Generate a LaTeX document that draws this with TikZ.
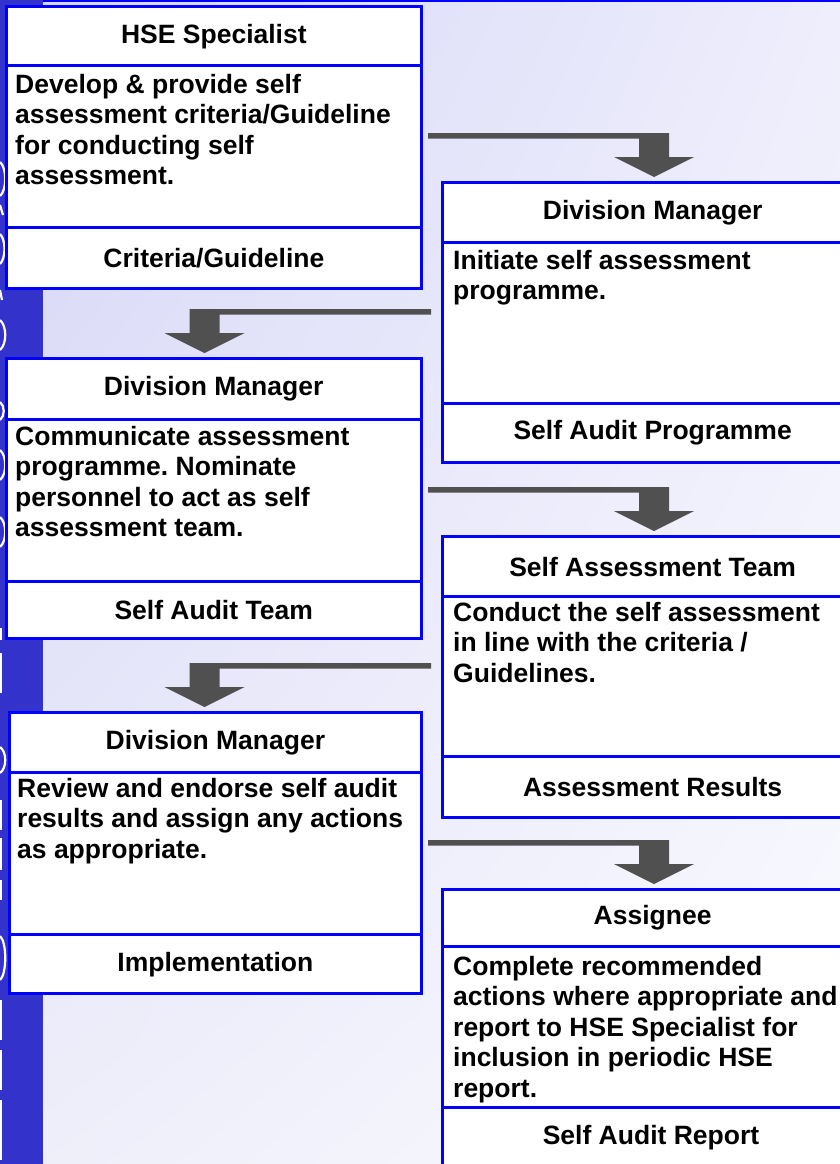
\documentclass[tikz,border=0pt]{standalone}
\usepackage{fontspec}
\setmainfont{Liberation Sans}
\usetikzlibrary{calc,shadings}
\definecolor{bord}{RGB}{0,0,255}
\definecolor{barc}{RGB}{51,51,204}
\definecolor{arr}{RGB}{80,80,80}
\definecolor{bgUL}{RGB}{212,212,247}
\definecolor{bgUR}{RGB}{238,238,252}
\definecolor{bgLL}{RGB}{238,238,250}
\definecolor{bgLR}{RGB}{250,250,255}
\newcommand\boxfont{\fontsize{26.5}{30.5}\selectfont\bfseries\frenchspacing}
\begin{document}
\begin{tikzpicture}[x=1pt,y=-1pt,
  cell/.style={draw=bord, line width=3.3pt, fill=white, rectangle, inner sep=0pt, anchor=north west, minimum width=#1},
  cell/.default=415pt,
  ttl/.style={font=\boxfont, inner sep=0pt},
  body/.style={font=\boxfont, align=left, anchor=base west, inner sep=0pt},
  lettermark/.style={draw=white, line width=2.2pt}
]
\useasboundingbox (0,0) rectangle (840,1164);
% background
\shade[upper left=bgUL, upper right=bgUR, lower left=bgLL, lower right=bgLR] (0,0) rectangle (840,1164);
\fill[barc] (0,0) rectangle (43,1164);
\fill[bord] (43,0) rectangle (840,2.5);
% white fragments of clipped lettering on the bar
\draw[lettermark] (0,162) .. controls (7,168) and (7,190) .. (0,196);
\draw[lettermark] (0,205) -- (3,215);
\draw[lettermark] (0,234) .. controls (6,240) and (6,258) .. (0,264);
\draw[lettermark] (0,290) -- (2,300);
\draw[lettermark] (0,320) .. controls (7,326) and (7,344) .. (0,350);
\draw[lettermark] (0,402) .. controls (5,406) and (5,416) .. (0,420);
\draw[lettermark] (0,450) .. controls (7,456) and (7,474) .. (0,480);
\draw[lettermark] (0,517) .. controls (7,523) and (7,541) .. (0,547);
\draw[lettermark] (1,628) -- (1,640);
\draw[lettermark] (1,653) -- (1,693);
\draw[lettermark] (0,747) .. controls (7,752) and (7,768) .. (0,773);
\draw[lettermark] (1,800) -- (1,830);
\draw[lettermark] (1,838) -- (1,870);
\draw[lettermark] (1,880) -- (1,900);
\draw[lettermark] (0,936) .. controls (7,942) and (7,974) .. (0,980);
\draw[lettermark] (1,1000) -- (1,1040);
\draw[lettermark] (1,1050) -- (1,1090);
\draw[lettermark] (1,1100) -- (1,1160);

% ---------- left column ----------
\node[cell=415.5pt, minimum height=59pt]  (hseT) at (4.5,5) {};
\node[cell=415.5pt, minimum height=162pt] (hseB) at (4.5,64) {};
\node[cell=415.5pt, minimum height=61pt]  (hseF) at (4.5,226) {};
\node[ttl] (hseTt) at (hseT.center) {HSE Specialist};
\node[body] (hseBt) at (15,184.5) {Develop \& provide self\\assessment criteria/Guideline\\for conducting self\\assessment.};
\node[ttl] (hseFt) at (hseF.center) {Criteria/Guideline};

\node[cell=415pt, minimum height=61pt]  (l2T) at (4.5,357) {};
\node[cell=415pt, minimum height=162pt] (l2B) at (4.5,418) {};
\node[cell=415pt, minimum height=57pt]  (l2F) at (4.5,580) {};
\node[ttl] (l2Tt) at (l2T.center) {Division Manager};
\node[body] (l2Bt) at (15,536.5) {Communicate assessment\\programme. Nominate\\personnel to act as self\\assessment team.};
\node[ttl] (l2Ft) at (l2F.center) {Self Audit Team};

\node[cell=411.5pt, minimum height=60pt]  (l3T) at (8,711) {};
\node[cell=411.5pt, minimum height=162pt] (l3B) at (8,771) {};
\node[cell=411.5pt, minimum height=59pt]  (l3F) at (8,933) {};
\node[ttl] (l3Tt) at (l3T.center) {Division Manager};
\node[body] (l3Bt) at (17,858) {Review and endorse self audit\\results and assign any actions\\as appropriate.};
\node[ttl] (l3Ft) at (l3F.center) {Implementation};

% ---------- right column ----------
\node[cell=420pt, minimum height=60pt]  (r1T) at (441,181) {};
\node[cell=420pt, minimum height=161pt] (r1B) at (441,241) {};
\node[cell=420pt, minimum height=59pt]  (r1F) at (441,402) {};
\node[ttl] (r1Tt) at (r1T.center) {Division Manager};
\node[body] (r1Bt) at (453,299.5) {Initiate self assessment\\programme.};
\node[ttl] (r1Ft) at (r1F.center) {Self Audit Programme};

\node[cell=420pt, minimum height=60pt]  (r2T) at (441,535) {};
\node[cell=420pt, minimum height=160pt] (r2B) at (441,595) {};
\node[cell=420pt, minimum height=61pt]  (r2F) at (441,755) {};
\node[ttl] (r2Tt) at (r2T.center) {Self Assessment Team};
\node[body] (r2Bt) at (453,682) {Conduct the self assessment\\in line with the criteria /\\Guidelines.};
\node[ttl] (r2Ft) at (r2F.center) {Assessment Results};

\node[cell=420pt, minimum height=57pt]  (r3T) at (441,888) {};
\node[cell=420pt, minimum height=161pt] (r3B) at (441,945) {};
\node[cell=420pt, minimum height=90pt]  (r3F) at (441,1106) {};
\node[ttl] (r3Tt) at (r3T.center) {Assignee};
\node[body] (r3Bt) at (453,1097) {Complete recommended\\actions where appropriate and\\report to HSE Specialist for\\inclusion in periodic HSE\\report.};
\node[ttl] (r3Ft) at (651,1138) {Self Audit Report};

% ---------- arrows ----------
\coordinate (a1s) at (428,133);   \coordinate (a1t) at (654,177);
\coordinate (a2s) at (431,309);   \coordinate (a2t) at (204.5,353);
\coordinate (a3s) at (428,487);   \coordinate (a3t) at (654,531);
\coordinate (a4s) at (431,663);   \coordinate (a4t) at (204.5,707);
\coordinate (a5s) at (428,840);   \coordinate (a5t) at (654,884);
\foreach \s/\t in {a1s/a1t,a3s/a3t,a5s/a5t}{
  \fill[arr] let \p1=(\s), \p2=(\t) in
    (\x1,\y1) -- (\x2+15pt,\y1) -- (\x2+15pt,\y2+20pt) -- (\x2+40pt,\y2+20pt) -- (\x2,\y2)
    -- (\x2-40pt,\y2+20pt) -- (\x2-15pt,\y2+20pt) -- (\x2-15pt,\y1-5.5pt) -- (\x1,\y1-5.5pt) -- cycle;
}
\foreach \s/\t in {a2s/a2t,a4s/a4t}{
  \fill[arr] let \p1=(\s), \p2=(\t) in
    (\x1,\y1) -- (\x2-15pt,\y1) -- (\x2-15pt,\y2+20pt) -- (\x2-40pt,\y2+20pt) -- (\x2,\y2)
    -- (\x2+40pt,\y2+20pt) -- (\x2+15pt,\y2+20pt) -- (\x2+15pt,\y1-5.5pt) -- (\x1,\y1-5.5pt) -- cycle;
}
\end{tikzpicture}
\end{document}
